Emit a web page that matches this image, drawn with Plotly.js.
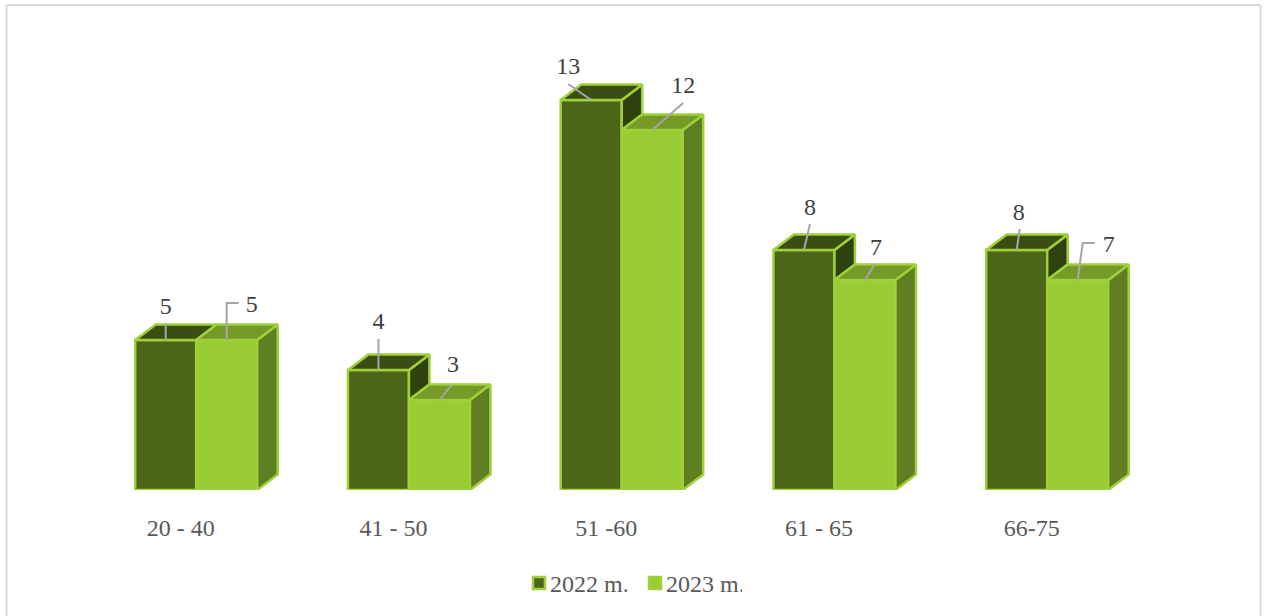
<!DOCTYPE html>
<html>
<head>
<meta charset="utf-8">
<script src="https://cdn.plot.ly/plotly-3.0.1.min.js"></script>
<style>
html,body{margin:0;padding:0;background:#fff;overflow:hidden}
#chart{width:1265px;height:616px}
.legend .legendsymbols{transform:translate(9px,0)}
</style>
</head>
<body>
<div id="chart"></div>
<script>
// Data
const categories = ['20 - 40', '41 - 50', '51 -60', '61 - 65', '66-75'];
const seriesNames = ['2022 m.', '2023 m.'];
const values2022 = [5, 4, 13, 8, 8];
const values2023 = [5, 3, 12, 7, 7];

// Layout constants (pixels on the page)
const W = 1265, H = 616, baseY = 490, unitY = 30, unitX = 212.75, firstX = 196.2;
const barPx = 61, depthX = 20.5, depthY = 15.5;
const xMin = -firstX / unitX, xMax = (W - firstX) / unitX, yMax = baseY / unitY;
const dX = px => px / unitX, dY = px => px / unitY;
const barW = dX(barPx);
const fontSize = 24, edge = 2.5;

const colors = {
  border: '#9ED03A',
  dFront: '#4C6619', dTop: '#3A4D12', dSide: '#2F410E',
  lFront: '#99CC33', lTop: '#769A28', lSide: '#5F7F22',
  leader: '#A6A6A6', text: '#404040', axis: '#595959', frame: '#D9D9D9'
};

// Leader-line bends and label offsets, pixels from the top-middle of each front face
const leaders2022 = [[[0,-16]], [[0,-31]], [[-23,-16]], [[6,-26]], [[3,-21]]];
const labels2022  = [[0,-32], [0,-47], [-23,-32], [6,-41], [2,-36]];
const leaders2023 = [[[0,-37],[12,-37]], [[12,-15]], [[31,-27]], [[10,-16]], [[5,-37],[17,-37]]];
const labels2023  = [[25,-34], [13.5,-34], [31,-43.5], [11,-31], [31,-34.5]];

function faces(vals, side, lowerVals) {
  const top = {x: [], y: []}, right = {x: [], y: []};
  vals.forEach((v, i) => {
    const l = i + (side < 0 ? -barW : 0), r = l + barW;
    top.x.push(l, l + dX(depthX), r + dX(depthX), r, l, null);
    top.y.push(v, v + dY(depthY), v + dY(depthY), v, v, null);
    const low = lowerVals ? lowerVals[i] : 0;
    if (low < v) {
      right.x.push(r, r + dX(depthX), r + dX(depthX), r, r, null);
      right.y.push(v, v + dY(depthY), low + dY(depthY), low, v, null);
    }
  });
  return {top, right};
}
function polyTrace(p, fill) {
  return {type: 'scatter', mode: 'lines', x: p.x, y: p.y, fill: 'toself', fillcolor: fill,
          line: {color: colors.border, width: edge}, hoverinfo: 'skip', showlegend: false};
}
const dark = faces(values2022, -1, values2023);
const light = faces(values2023, 1, null);

const leadX = [], leadY = [], labX = [], labY = [], labT = [];
[[values2022, leaders2022, labels2022, -1], [values2023, leaders2023, labels2023, 1]].forEach(([vals, lead, lab, side]) => {
  vals.forEach((v, i) => {
    const cx = i + side * barW / 2;
    leadX.push(cx); leadY.push(v);
    lead[i].forEach(b => { leadX.push(cx + dX(b[0])); leadY.push(v - dY(b[1])); });
    leadX.push(null); leadY.push(null);
    labX.push(cx + dX(lab[i][0])); labY.push(v - dY(lab[i][1])); labT.push(String(v));
  });
});

const idx = categories.map((c, i) => i);
const traces = [
  polyTrace(dark.right, colors.dSide),
  polyTrace(dark.top, colors.dTop),
  polyTrace(light.right, colors.lSide),
  polyTrace(light.top, colors.lTop),
  {type: 'bar', name: seriesNames[0], x: idx, y: values2022, hoverinfo: 'skip',
   marker: {color: colors.dFront, line: {color: colors.border, width: edge}}},
  {type: 'bar', name: seriesNames[1], x: idx, y: values2023, hoverinfo: 'skip',
   marker: {color: colors.lFront, line: {color: colors.border, width: edge}}},
  {type: 'scatter', mode: 'lines', x: leadX, y: leadY, hoverinfo: 'skip', showlegend: false,
   line: {color: colors.leader, width: 2}},
  {type: 'scatter', mode: 'text', x: labX, y: labY, text: labT, textposition: 'middle center',
   hoverinfo: 'skip', showlegend: false, cliponaxis: false,
   textfont: {family: 'Liberation Serif', size: fontSize, color: colors.text}}
];

const py = p => (baseY - p) / baseY, px = p => p / W;
const frame = (x0, y0, x1, y1) => ({type: 'line', xref: 'paper', yref: 'paper', x0: px(x0), y0: py(y0), x1: px(x1), y1: py(y1),
  line: {color: colors.frame, width: 2}});

const layout = {
  width: W, height: H, autosize: false,
  margin: {l: 0, r: 0, t: 0, b: H - baseY, pad: 0},
  paper_bgcolor: '#fff', plot_bgcolor: 'rgba(0,0,0,0)',
  barmode: 'group', bargap: 1 - 2 * barW, bargroupgap: 0,
  font: {family: 'Liberation Serif', size: fontSize, color: colors.axis},
  xaxis: {range: [xMin, xMax], tickmode: 'array', tickvals: idx.map(i => i - dX(15.5)), ticktext: categories,
          showgrid: false, zeroline: false, showline: false, ticks: '', ticklabelstandoff: 21,
          tickfont: {family: 'Liberation Serif', size: fontSize, color: colors.axis}},
  yaxis: {range: [0, yMax], showgrid: false, zeroline: false, showline: false, showticklabels: false, ticks: ''},
  showlegend: true,
  legend: {orientation: 'h', x: px(510), xanchor: 'left', y: py(561), yanchor: 'top', traceorder: 'normal',
           bgcolor: 'rgba(0,0,0,0)', borderwidth: 0, itemwidth: 30, entrywidth: 71, entrywidthmode: 'pixels',
           font: {family: 'Liberation Serif', size: fontSize, color: colors.axis}},
  shapes: [frame(6.5, 5, 1260.5, 5), frame(6.5, 5, 6.5, 616), frame(1260.5, 5, 1260.5, 616)]
};
Plotly.newPlot('chart', traces, layout, {displayModeBar: false, responsive: false});
</script>
</body>
</html>
